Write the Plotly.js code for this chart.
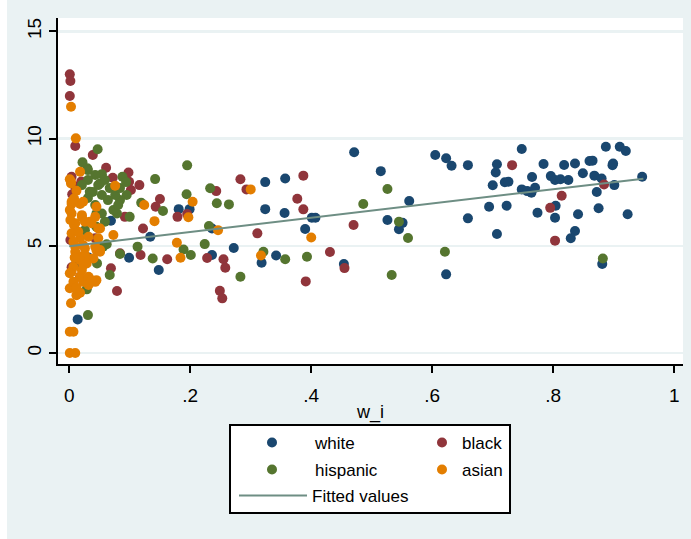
<!DOCTYPE html>
<html><head><meta charset="utf-8">
<script src="https://cdn.plot.ly/plotly-3.0.1.min.js"></script>
<style>html,body{margin:0;padding:0;background:#fff;overflow:hidden}
#chart{position:absolute;left:7px;top:0;width:684px;height:539px}</style>
</head><body><div id="chart"></div>
<script>
// ---- data ----
var white = [[0.324,7.97],[0.357,8.14],[0.324,6.71],[0.356,6.53],[0.401,6.31],[0.407,6.31],[0.390,5.78],[0.471,9.36],[0.515,8.48],[0.562,7.09],[0.605,9.23],[0.623,9.08],[0.632,8.73],[0.526,6.20],[0.551,6.07],[0.545,5.77],[0.236,5.81],[0.272,4.90],[0.318,4.21],[0.342,4.55],[0.454,4.15],[0.623,3.67],[0.236,4.57],[0.659,8.76],[0.707,8.80],[0.705,8.42],[0.748,9.51],[0.784,8.81],[0.700,7.82],[0.720,7.96],[0.726,7.99],[0.765,8.21],[0.748,7.63],[0.757,7.55],[0.764,7.47],[0.770,7.71],[0.796,8.25],[0.803,8.07],[0.812,8.10],[0.825,8.07],[0.818,8.77],[0.836,8.84],[0.849,8.38],[0.860,8.95],[0.865,8.97],[0.868,8.27],[0.880,8.14],[0.901,7.83],[0.898,8.76],[0.899,8.84],[0.887,9.62],[0.910,9.62],[0.920,9.42],[0.947,8.22],[0.872,7.51],[0.804,6.87],[0.694,6.82],[0.723,6.87],[0.774,6.54],[0.659,6.28],[0.803,6.31],[0.841,6.47],[0.875,6.75],[0.923,6.47],[0.707,5.55],[0.836,5.69],[0.829,5.35],[0.881,4.15],[0.181,6.71],[0.199,6.71],[0.134,5.42],[0.148,3.87],[0.014,1.57],[0.099,4.44],[0.069,6.17],[0.032,4.45],[0.012,4.20]];
var black = [[0.001,13.0],[0.002,12.68],[0.001,11.98],[0.010,9.65],[0.039,9.23],[0.061,8.64],[0.004,8.22],[0.072,8.17],[0.098,8.42],[0.099,7.99],[0.116,7.83],[0.102,7.60],[0.283,8.10],[0.293,7.63],[0.387,8.27],[0.377,7.19],[0.387,6.70],[0.470,5.97],[0.311,5.58],[0.431,4.71],[0.455,3.96],[0.228,4.43],[0.255,4.37],[0.258,3.98],[0.391,3.34],[0.249,2.90],[0.253,2.55],[0.243,7.55],[0.150,7.18],[0.143,6.82],[0.179,6.35],[0.195,6.48],[0.162,4.37],[0.732,8.76],[0.884,7.86],[0.795,6.77],[0.814,7.33],[0.803,5.24],[0.079,2.89],[0.069,3.95],[0.122,5.81],[0.118,4.57],[0.004,4.00],[0.002,5.27],[0.010,7.75],[0.084,4.65],[0.092,6.35],[0.018,3.56],[0.043,5.35],[0.005,7.40],[0.020,8.00]];
var hispanic = [[0.233,7.68],[0.244,6.98],[0.264,6.93],[0.526,7.65],[0.486,6.95],[0.545,6.12],[0.560,5.36],[0.231,5.92],[0.224,5.08],[0.321,4.72],[0.357,4.37],[0.393,4.49],[0.283,3.56],[0.533,3.64],[0.621,4.72],[0.882,4.41],[0.195,8.75],[0.142,8.11],[0.155,6.62],[0.194,7.40],[0.189,4.83],[0.201,4.57],[0.138,4.41],[0.047,9.50],[0.022,8.89],[0.030,8.61],[0.054,8.34],[0.088,8.22],[0.119,7.01],[0.031,1.77],[0.029,2.97],[0.046,4.18],[0.067,3.64],[0.084,4.62],[0.113,4.96],[0.056,4.96],[0.059,6.12],[0.045,6.51],[0.079,6.51],[0.095,7.37],[0.084,7.13],[0.034,7.52],[0.051,7.91],[0.054,6.51],[0.073,6.67],[0.100,6.35],[0.062,5.07],[0.045,5.89],[0.026,5.73],[0.031,8.53],[0.043,8.30],[0.031,8.07],[0.048,7.83],[0.059,8.07],[0.067,7.69],[0.039,7.51],[0.054,7.37],[0.076,7.37],[0.084,7.69],[0.064,7.13],[0.031,7.23],[0.081,6.90],[0.043,6.90],[0.021,7.83],[0.094,7.97]];
var asian = [[0.003,11.48],[0.011,10.01],[0.018,8.45],[0.003,7.98],[0.076,7.80],[0.012,7.57],[0.004,7.05],[0.023,7.05],[0.124,6.90],[0.001,3.02],[0.018,2.81],[0.003,2.32],[0.001,0.99],[0.007,0.99],[0.001,0.0],[0.010,0.0],[0.012,2.70],[0.032,3.17],[0.043,3.32],[0.023,3.32],[0.003,7.91],[0.004,6.95],[0.018,6.95],[0.004,6.51],[0.021,6.35],[0.034,6.12],[0.008,5.97],[0.045,6.82],[0.051,5.81],[0.004,5.58],[0.018,5.35],[0.010,4.96],[0.026,4.88],[0.045,4.80],[0.015,4.52],[0.032,4.41],[0.051,4.72],[0.023,4.10],[0.004,3.79],[0.018,3.56],[0.032,3.56],[0.045,3.40],[0.015,2.78],[0.073,5.50],[0.178,5.14],[0.184,4.44],[0.001,6.67],[0.021,6.43],[0.010,6.05],[0.026,6.12],[0.037,6.05],[0.015,5.65],[0.032,5.42],[0.048,5.35],[0.007,5.19],[0.023,5.03],[0.043,4.96],[0.051,4.80],[0.010,4.72],[0.026,4.57],[0.040,4.41],[0.018,4.34],[0.007,4.02],[0.029,4.18],[0.001,3.72],[0.021,3.87],[0.037,3.40],[0.007,3.32],[0.043,6.35],[0.048,5.81],[0.246,5.73],[0.300,7.63],[0.400,5.39],[0.317,4.55],[0.204,7.05],[0.197,6.33],[0.141,6.15],[0.001,8.10],[0.008,7.20],[0.002,6.20],[0.009,4.45],[0.012,3.05]];
var fitX = [0.0, 0.949];
var fitY = [4.98, 8.13];
var seriesNames = ['white', 'black', 'hispanic', 'asian', 'Fitted values'];
var xTickVals = [0, 0.2, 0.4, 0.6, 0.8, 1];
var xTickText = ['0', '.2', '.4', '.6', '.8', '1'];
var yTickVals = [0, 5, 10, 15];
var yTickText = ['0', '5', '10', '15'];
var xTitle = 'w_i';

// ---- styling ----
var FONT = '"Liberation Sans", Arial, sans-serif';
var FS = 17;
var colors = ['#1a476f', '#90353b', '#55752f', '#e37e00', '#6e8e84'];
var groups = [white, black, hispanic, asian];
var legendIds = ['legend', 'legend2', 'legend3', 'legend4'];

var traces = groups.map(function (g, i) {
  return {
    type: 'scatter', mode: 'markers', name: seriesNames[i],
    x: g.map(function (p) { return p[0]; }),
    y: g.map(function (p) { return p[1]; }),
    marker: { color: colors[i], size: 10, line: { width: 0 } },
    legend: legendIds[i], hoverinfo: 'skip'
  };
});
traces.push({
  type: 'scatter', mode: 'lines', name: seriesNames[4],
  x: fitX, y: fitY, line: { color: colors[4], width: 2 },
  legend: 'legend5', hoverinfo: 'skip'
});

// legend positions in paper coords (plot area: x 58..683, y 18..364 in page px)
function px2x(px) { return (px - 58) / 625; }
function py2y(py) { return (364 - py) / 346; }
function leg(pxLeft, pyMid, iw) {
  return { x: px2x(pxLeft), y: py2y(pyMid), xref: 'paper', yref: 'paper', xanchor: 'left', yanchor: 'middle',
    orientation: 'v', bgcolor: 'rgba(0,0,0,0)', borderwidth: 0, itemwidth: iw,
    font: { family: FONT, size: FS, color: '#000' } };
}

var layout = {
  width: 684, height: 539,
  margin: { l: 51, r: 8, t: 18, b: 175, pad: 0, autoexpand: false },
  paper_bgcolor: '#eaf2f3', plot_bgcolor: '#ffffff',
  font: { family: FONT, size: FS, color: '#000' },
  showlegend: true,
  xaxis: {
    range: [-0.0185, 1.0145], tickmode: 'array', tickvals: xTickVals, ticktext: xTickText,
    ticks: 'outside', ticklen: 7, tickwidth: 2, tickcolor: '#000', ticklabelstandoff: 6,
    tickfont: { family: FONT, size: 19 },
    showline: true, linecolor: '#000', linewidth: 2, showgrid: false, zeroline: false,
    title: { text: xTitle, standoff: 1, font: { family: FONT, size: 18 } }, automargin: false
  },
  yaxis: {
    range: [-0.51, 15.62], tickmode: 'array', tickvals: yTickVals, ticktext: yTickText, tickangle: -90,
    ticks: 'outside', ticklen: 7, tickwidth: 2, tickcolor: '#000',
    tickfont: { family: FONT, size: 19 },
    showline: true, linecolor: '#000', linewidth: 2, showgrid: true, gridcolor: '#eaf2f3', gridwidth: 2.5,
    zeroline: false, automargin: false
  },
  legend: leg(229, 443, 76),
  legend2: leg(422, 443, 30),
  legend3: leg(229, 470, 76),
  legend4: leg(422, 470, 30),
  legend5: leg(234, 496, 68),
  shapes: [{
    type: 'rect', xref: 'paper', yref: 'paper', x0: px2x(230), x1: px2x(510), y0: py2y(425), y1: py2y(513),
    fillcolor: '#ffffff', line: { color: '#000', width: 2 }, layer: 'above'
  }]
};

Plotly.newPlot('chart', traces, layout, { staticPlot: true, displayModeBar: false });
</script></body></html>
